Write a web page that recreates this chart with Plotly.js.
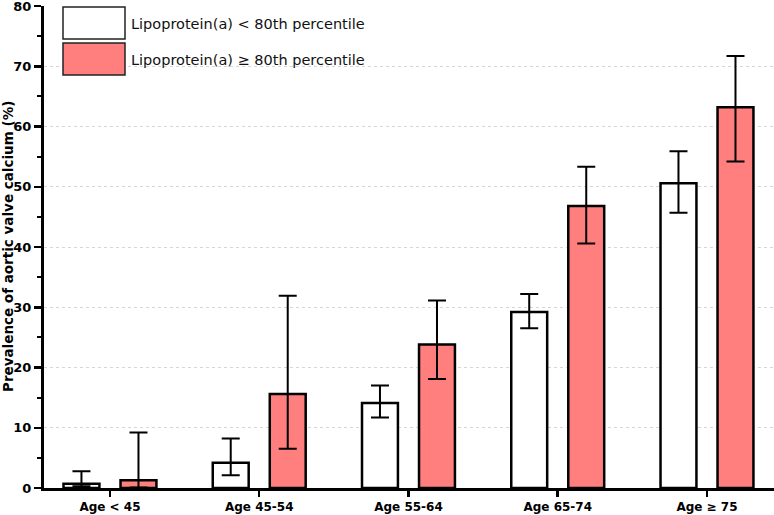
<!DOCTYPE html>
<html>
<head>
<meta charset="utf-8">
<script src="https://cdn.plot.ly/plotly-3.0.1.min.js"></script>
<style>
  html, body { margin: 0; padding: 0; background: #fff; }
  #chart { width: 774px; height: 515px; }
</style>
</head>
<body>
<div id="chart"></div>
<script>
// age groups on the x axis
const categories = ["Age < 45", "Age 45-54", "Age 55-64", "Age 65-74", "Age \u2265 75"];

// Lp(a) < 80th percentile
const lowName = "Lipoprotein(a) < 80th percentile";
const lowValues = [0.7, 4.2, 14.1, 29.2, 50.6];
const lowUpper = [2.8, 8.2, 17.0, 32.2, 55.9];
const lowLower = [0.3, 2.1, 11.7, 26.5, 45.7];

// Lp(a) >= 80th percentile
const highName = "Lipoprotein(a) \u2265 80th percentile";
const highValues = [1.3, 15.6, 23.8, 46.8, 63.2];
const highUpper = [9.2, 31.9, 31.1, 53.3, 71.7];
const highLower = [0.1, 6.5, 18.1, 40.6, 54.2];

const yTitle = "Prevalence of aortic valve calcium (%)";

const W = 774, H = 515;
const M = {l: 44, r: 0, t: 6, b: 27};
const pw = W - M.l - M.r, ph = H - M.t - M.b;
// pixel -> paper helpers for the hand drawn legend / title
const px = (x) => (x - M.l) / pw;
const py = (y) => (H - M.b - y) / ph;

function errs(vals, up, lo){
    return {
        type: "data",
        symmetric: false,
        array: up.map((u, i) => u - vals[i]),
        arrayminus: lo.map((l, i) => vals[i] - l),
        color: "#000",
        thickness: 2,
        width: 9
    };
}

const low = {
    type: "bar",
    name: lowName,
    x: categories,
    y: lowValues,
    marker: {color: "#ffffff", line: {color: "#000", width: 2.5}},
    error_y: errs(lowValues, lowUpper, lowLower),
    showlegend: false
};
const high = {
    type: "bar",
    name: highName,
    x: categories,
    y: highValues,
    marker: {color: "#ff7f7f", line: {color: "#000", width: 2.5}},
    error_y: errs(highValues, highUpper, highLower),
    showlegend: false
};

const legendItems = [
    {name: lowName, color: "#ffffff", top: 7},
    {name: highName, color: "#ff7f7f", top: 43}
];
const shapes = [];
const annotations = [];
legendItems.forEach((item) => {
    shapes.push({
        type: "rect", xref: "paper", yref: "paper",
        x0: px(63), x1: px(125), y0: py(item.top), y1: py(item.top + 32),
        fillcolor: item.color, line: {color: "#222", width: 1.5}
    });
    annotations.push({
        xref: "paper", yref: "paper", x: px(129), y: py(item.top + 17),
        xanchor: "left", yanchor: "middle", showarrow: false,
        text: item.name,
        font: {family: "DejaVu Sans", size: 14.5, color: "#111"}
    });
});
// y axis title as a rotated annotation so it sits clear of the tick labels
annotations.push({
    xref: "paper", yref: "paper", x: px(8), y: py(247),
    xanchor: "center", yanchor: "middle", showarrow: false,
    textangle: -90,
    text: "<b>" + yTitle + "</b>",
    font: {family: "DejaVu Sans", size: 13.5, color: "#000"}
});

const layout = {
    width: W, height: H,
    margin: M,
    paper_bgcolor: "#fff",
    plot_bgcolor: "#fff",
    barmode: "group",
    bargap: 0.236,
    bargroupgap: 0.37,
    font: {family: "DejaVu Sans", color: "#000"},
    xaxis: {
        range: [-0.442, 4.449],
        showline: true, linecolor: "#000", linewidth: 3,
        ticks: "outside", ticklen: 6, tickwidth: 2.5, tickcolor: "#000",
        tickfont: {family: "DejaVu Sans", size: 12, weight: "bold"},
        showgrid: false, zeroline: false, fixedrange: true
    },
    yaxis: {
        range: [0, 80],
        dtick: 10,
        showline: true, linecolor: "#000", linewidth: 3,
        ticks: "outside", ticklen: 7, tickwidth: 2.5, tickcolor: "#000",
        ticklabeloverflow: "allow",
        minor: {dtick: 5, ticks: "outside", ticklen: 4, tickwidth: 2, tickcolor: "#000", showgrid: false},
        tickfont: {family: "DejaVu Sans", size: 13, weight: "bold"},
        showgrid: true, gridcolor: "#d6d6d6", griddash: "3px,3px", gridwidth: 1,
        zeroline: false
    },
    shapes: shapes,
    annotations: annotations
};

Plotly.newPlot("chart", [low, high], layout, {displayModeBar: false, staticPlot: true});
</script>
</body>
</html>
